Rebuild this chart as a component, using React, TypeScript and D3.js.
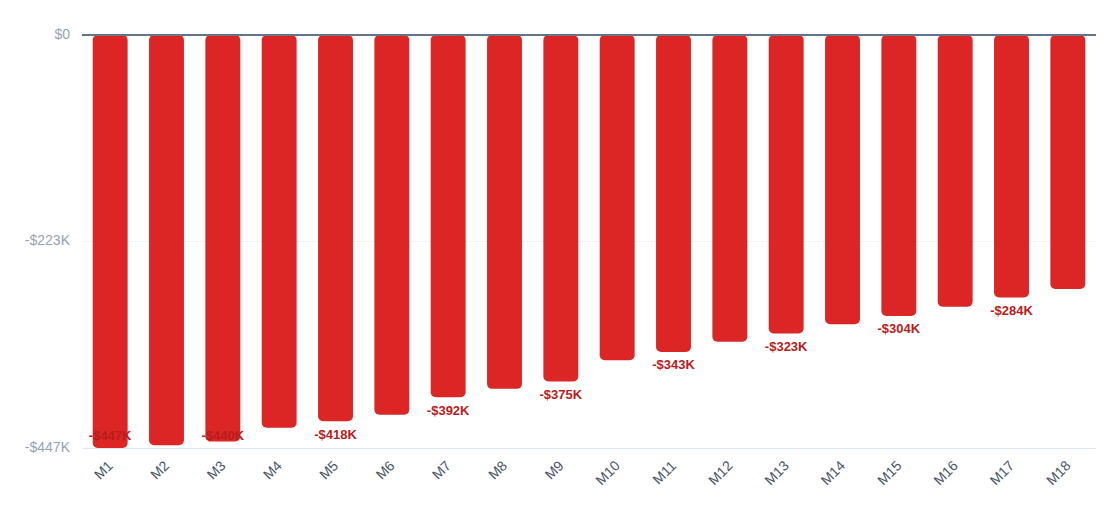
import React, { useEffect, useRef } from 'react'
import * as d3 from 'd3'

const months = ['M1', 'M2', 'M3', 'M4', 'M5', 'M6', 'M7', 'M8', 'M9', 'M10', 'M11', 'M12', 'M13', 'M14', 'M15', 'M16', 'M17', 'M18']
const values = [-447, -444, -440, -425, -418, -411, -392, -383, -375, -352, -343, -332, -323, -313, -304, -294, -284, -275]
const yTicks = [0, -223, -447]

const fmt = (v: number) => (v === 0 ? '$0' : `-$${Math.abs(v)}K`)

export default function App() {
	const ref = useRef<SVGSVGElement>(null)

	const width = 1120
	const height = 531
	const margin = { top: 35, right: 24, bottom: 83, left: 82 }

	useEffect(() => {
		const svg = d3.select(ref.current)
		svg.selectAll('*').remove()

		const x = d3
			.scaleBand()
			.domain(months)
			.range([margin.left, width - margin.right])
			.paddingInner(0.38)
			.paddingOuter(0.19)

		const y = d3
			.scaleLinear()
			.domain([-447, 0])
			.range([height - margin.bottom, margin.top])

		// gridlines
		svg.append('g')
			.selectAll('line')
			.data(yTicks.filter(t => t !== 0))
			.enter()
			.append('line')
			.attr('x1', margin.left)
			.attr('x2', width - margin.right)
			.attr('y1', d => y(d) + 0.5)
			.attr('y2', d => y(d) + 0.5)
			.style('stroke', (d) => (d === -447 ? '#e2e8f0' : '#f1f5f9'))
			.style('stroke-width', 1)

		// y tick labels
		svg.append('g')
			.selectAll('text')
			.data(yTicks)
			.enter()
			.append('text')
			.attr('x', margin.left - 12)
			.attr('y', d => y(d))
			.attr('text-anchor', 'end')
			.attr('dominant-baseline', 'middle')
			.style('fill', '#94a3b8')
			.style('font-size', '14px')
			.style('font-family', 'Liberation Sans, Arial, sans-serif')
			.text(d => fmt(d))

		// bars
		svg.append('g')
			.selectAll('rect')
			.data(values)
			.enter()
			.append('rect')
			.attr('x', (_, i) => x(months[i]) as number)
			.attr('y', y(0))
			.attr('width', x.bandwidth())
			.attr('height', d => y(d) - y(0))
			.attr('rx', 5)
			.style('fill', '#dc2626')

		// zero line
		svg.append('line')
			.attr('x1', margin.left)
			.attr('x2', width - margin.right)
			.attr('y1', y(0))
			.attr('y2', y(0))
			.style('stroke', '#64748b')
			.style('stroke-width', 2)

		// value labels, every other bar
		svg.append('g')
			.selectAll('text')
			.data(values.map((v, i) => ({ v, i })).filter(d => d.i % 2 === 0))
			.enter()
			.append('text')
			.attr('x', d => (x(months[d.i]) as number) + x.bandwidth() / 2)
			.attr('y', d => Math.min(y(d.v) + 14, 437))
			.attr('text-anchor', 'middle')
			.attr('dominant-baseline', 'middle')
			.style('fill', '#b91c1c')
			.style('font-size', '13px')
			.style('font-weight', 'bold')
			.style('font-family', 'Liberation Sans, Arial, sans-serif')
			.text(d => fmt(d.v))

		// x labels
		svg.append('g')
			.selectAll('text')
			.data(months)
			.enter()
			.append('text')
			.attr('transform', d => `translate(${(x(d) as number) + x.bandwidth() / 2 + 1}, ${height - margin.bottom + 16}) rotate(-45)`)
			.attr('text-anchor', 'end')
			.attr('dominant-baseline', 'middle')
			.style('fill', '#475569')
			.style('font-size', '14px')
			.style('font-family', 'Liberation Sans, Arial, sans-serif')
			.text(d => d)
	}, [])

	return <svg ref={ref} width={width} height={height} style={{ position: 'absolute', top: 0, left: 0 }} />
}
